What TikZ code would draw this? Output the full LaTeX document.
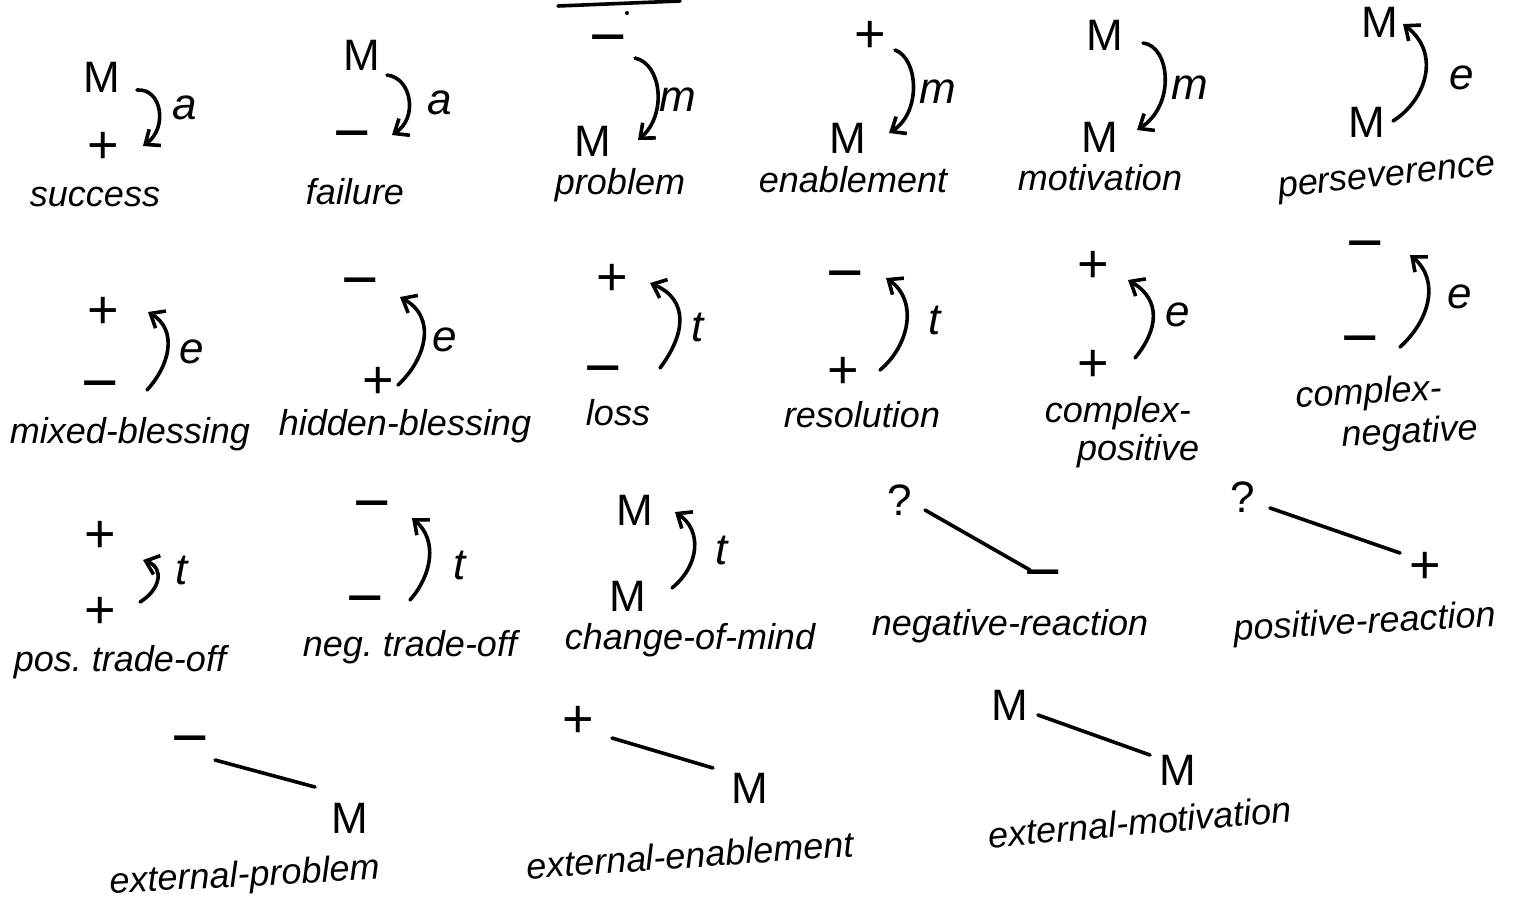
\documentclass[tikz,border=0pt]{standalone}
\usepackage{fontspec}
\setmainfont{Liberation Sans}
\usetikzlibrary{arrows.meta}
\begin{document}
\frenchspacing
\begin{tikzpicture}[x=0.5pt,y=-0.5pt,
  sym/.style={font=\fontsize{22}{22}\selectfont, inner sep=0pt},
  pls/.style={font=\fontsize{27}{27}\selectfont, inner sep=0pt},
  mns/.style={font=\fontsize{32}{32}\selectfont, inner sep=0pt},
  lab/.style={font=\fontsize{18}{19}\selectfont\itshape, inner sep=0pt, align=left},
  rel/.style={font=\fontsize{22}{22}\selectfont\itshape, inner sep=0pt},
  arc/.style={line width=1.8pt, line cap=round, -{Straight Barb[length=6pt,width=10pt]}},
  link/.style={line width=1.8pt, line cap=round}]
\useasboundingbox (0,0) rectangle (1526,912);

% stray stroke at the top
\draw[link] (558,6) -- (680,1);
\fill (627,13) circle (2);

% ---------- row 1 ----------
% success
\node[sym] (sucM) at (102,77) {M};
\node[pls] (sucP) at (103,148) {+};
\node[rel] (sucA) at (185,108) {a};
\node[lab] (sucL) at (95,197) {success};
\coordinate (sucS) at (137,90); \coordinate (sucE) at (143,146);
\draw[arc] (sucS) .. controls (162,88) and (168,128) .. (sucE);

% failure
\node[sym] (faiM) at (362,55) {M};
\node[mns] (faiN) at (352,143) {−};
\node[rel] (faiA) at (440,103) {a};
\node[lab] (faiL) at (355,192) {failure};
\coordinate (faiS) at (387,75); \coordinate (faiE) at (392,135);
\draw[arc] (faiS) .. controls (412,78) and (418,118) .. (faiE);

% problem
\node[mns] (proN) at (608,47) {−};
\node[sym] (proM) at (593,141) {M};
\node[rel] (proR) at (678,100) {m};
\node[lab] (proL) at (620,185) {problem};
\coordinate (proS) at (635,58); \coordinate (proE) at (638,140);
\draw[arc] (proS) .. controls (662,64) and (667,115) .. (proE);

% enablement
\node[pls] (enaP) at (870,37) {+};
\node[sym] (enaM) at (848,138) {M};
\node[rel] (enaR) at (938,92) {m};
\node[lab] (enaL) at (853,180) {enablement};
\coordinate (enaS) at (895,50); \coordinate (enaE) at (889,133);
\draw[arc] (enaS) .. controls (918,58) and (922,112) .. (enaE);

% motivation
\node[sym] (motT) at (1105,35) {M};
\node[sym] (motB) at (1100,137) {M};
\node[rel] (motR) at (1190,88) {m};
\node[lab] (motL) at (1100,178) {motivation};
\coordinate (motS) at (1143,43); \coordinate (motE) at (1137,130);
\draw[arc] (motS) .. controls (1170,46) and (1176,105) .. (motE);

% perseverence
\node[sym] (perT) at (1380,22) {M};
\node[sym] (perB) at (1367,122) {M};
\node[rel] (perR) at (1462,78) {e};
\node[lab, rotate=6] (perL) at (1387,180) {perseverence};
\coordinate (perS) at (1393,121); \coordinate (perE) at (1403,24);
\draw[arc] (perS) .. controls (1425,101) and (1442,54) .. (perE);

% ---------- row 2 ----------
% mixed-blessing
\node[pls] (mixP) at (103,313) {+};
\node[mns] (mixN) at (100,393) {−};
\node[rel] (mixR) at (192,352) {e};
\node[lab] (mixL) at (130,434) {mixed-blessing};
\coordinate (mixS) at (147,390); \coordinate (mixE) at (148,312);
\draw[arc] (mixS) .. controls (170,365) and (178,330) .. (mixE);

% hidden-blessing
\node[mns] (hidN) at (360,290) {−};
\node[pls] (hidP) at (378,383) {+};
\node[rel] (hidR) at (445,340) {e};
\node[lab] (hidL) at (405,426) {hidden-blessing};
\coordinate (hidS) at (398,385); \coordinate (hidE) at (400,297);
\draw[arc] (hidS) .. controls (425,360) and (438,318) .. (hidE);

% loss
\node[pls] (losP) at (612,280) {+};
\node[mns] (losN) at (603,378) {−};
\node[rel] (losR) at (698,327) {t};
\node[lab] (losL) at (618,413) {loss};
\coordinate (losS) at (660,368); \coordinate (losE) at (650,283);
\draw[arc] (losS) .. controls (685,335) and (690,300) .. (losE);

% resolution
\node[mns] (resN) at (845,283) {−};
\node[pls] (resP) at (843,373) {+};
\node[rel] (resR) at (935,320) {t};
\node[lab] (resL) at (862,415) {resolution};
\coordinate (resS) at (880,370); \coordinate (resE) at (886,278);
\draw[arc] (resS) .. controls (910,345) and (918,300) .. (resE);

% complex-positive
\node[pls] (cpT) at (1093,267) {+};
\node[pls] (cpB) at (1093,366) {+};
\node[rel] (cpR) at (1178,315) {e};
\node[lab, anchor=north] (cpL) at (1122,396) {complex-\\\hspace*{0.9em}positive};
\coordinate (cpS) at (1135,358); \coordinate (cpE) at (1128,280);
\draw[arc] (cpS) .. controls (1158,330) and (1162,300) .. (cpE);

% complex-negative
\node[mns] (cnT) at (1365,253) {−};
\node[mns] (cnB) at (1360,348) {−};
\node[rel] (cnR) at (1460,297) {e};
\node[lab, rotate=3, anchor=north] (cnL) at (1385,376) {complex-\\[2pt]\hspace*{1.2em}negative};
\coordinate (cnS) at (1400,347); \coordinate (cnE) at (1410,255);
\draw[arc] (cnS) .. controls (1430,320) and (1440,280) .. (cnE);

% ---------- row 3 ----------
% pos. trade-off
\node[pls] (ptT) at (100,537) {+};
\node[pls] (ptB) at (100,613) {+};
\node[rel] (ptR) at (182,570) {t};
\node[lab] (ptL) at (120,662) {pos. trade-off};
\coordinate (ptS) at (140,602); \coordinate (ptE) at (143,560);
\draw[arc] (ptS) .. controls (160,590) and (165,568) .. (ptE);

% neg. trade-off
\node[mns] (ntT) at (372,513) {−};
\node[mns] (ntB) at (365,608) {−};
\node[rel] (ntR) at (460,565) {t};
\node[lab] (ntL) at (410,647) {neg. trade-off};
\coordinate (ntS) at (410,600); \coordinate (ntE) at (412,518);
\draw[arc] (ntS) .. controls (432,575) and (438,540) .. (ntE);

% change-of-mind
\node[sym] (cmT) at (635,510) {M};
\node[sym] (cmB) at (628,596) {M};
\node[rel] (cmR) at (722,550) {t};
\node[lab] (cmL) at (690,640) {change-of-mind};
\coordinate (cmS) at (672,588); \coordinate (cmE) at (675,512);
\draw[arc] (cmS) .. controls (700,565) and (702,530) .. (cmE);

% negative-reaction
\node[sym] (nrQ) at (900,500) {?};
\node[mns] (nrN) at (1043,582) {−};
\node[lab] (nrL) at (1010,626) {negative-reaction};
\coordinate (nrS) at (925,510); \coordinate (nrE) at (1030,570);
\draw[link] (nrS) -- (nrE);

% positive-reaction
\node[sym] (prQ) at (1243,497) {?};
\node[pls] (prP) at (1425,568) {+};
\node[lab, rotate=3] (prL) at (1365,624) {positive-reaction};
\coordinate (prS) at (1270,508); \coordinate (prE) at (1400,553);
\draw[link] (prS) -- (prE);

% ---------- row 4 ----------
% external-problem
\node[mns] (epN) at (190,748) {−};
\node[sym] (epM) at (350,818) {M};
\node[lab, rotate=3] (epL) at (245,877) {external-problem};
\coordinate (epS) at (215,760); \coordinate (epE) at (315,787);
\draw[link] (epS) -- (epE);

% external-enablement
\node[pls] (eeP) at (578,722) {+};
\node[sym] (eeM) at (750,788) {M};
\node[lab, rotate=4] (eeL) at (690,855) {external-enablement};
\coordinate (eeS) at (612,738); \coordinate (eeE) at (713,768);
\draw[link] (eeS) -- (eeE);

% external-motivation
\node[sym] (emT) at (1010,705) {M};
\node[sym] (emB) at (1178,770) {M};
\node[lab, rotate=5] (emL) at (1140,822) {external-motivation};
\coordinate (emS) at (1038,715); \coordinate (emE) at (1150,755);
\draw[link] (emS) -- (emE);
\end{tikzpicture}
\end{document}
